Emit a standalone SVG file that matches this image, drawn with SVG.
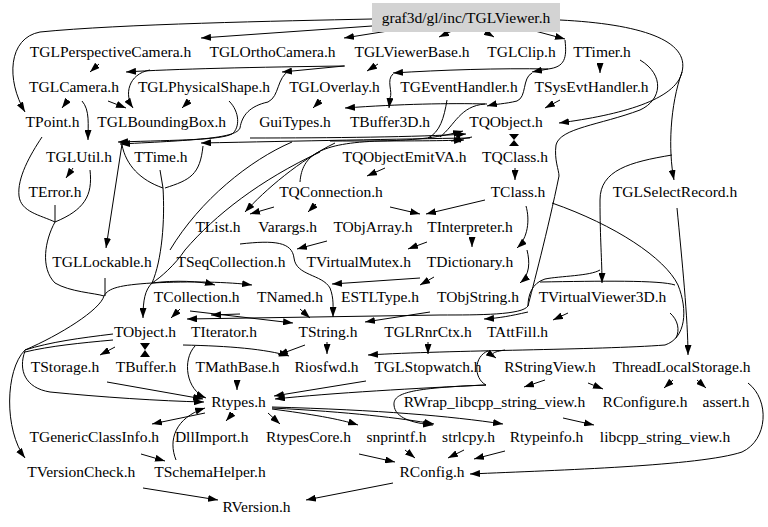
<svg xmlns="http://www.w3.org/2000/svg" width="768" height="527" viewBox="0 0 768 527">
<style>
text{font-family:"Liberation Serif","Times New Roman",serif;font-size:15.5px;text-anchor:middle;fill:#000}
.e{fill:none;stroke:#000;stroke-width:1;marker-end:url(#a)}
.l{fill:none;stroke:#000;stroke-width:1}
.h{fill:#000;stroke:none}
</style>
<defs>
<marker id="a" viewBox="0 0 10 7" refX="10" refY="3.5" markerWidth="10" markerHeight="7" markerUnits="userSpaceOnUse" orient="auto"><path d="M0,0L10,3.5L0,7z"/></marker>
</defs>
<rect width="768" height="527" fill="#fff"/>
<g id="edges">
<path class="e" d="M372,19 C280,21 120,24 40,32 C8,38 6,80 25,112"/>
<path class="e" d="M372,26 L201,38"/>
<path class="e" d="M388,31 L344,38"/>
<path class="e" d="M452,31 L439,37"/>
<path class="e" d="M484,31 L494,37"/>
<path class="e" d="M535,31 L565,39"/>
<path class="e" d="M560,20 C640,24 690,40 682,72 C676,100 620,115 559,123"/>
<path class="e" d="M682,72 C670,105 668,150 674,180"/>
<path class="e" d="M672,155 C630,162 600,170 600,200 C600,240 602,260 602,283"/>
<path class="e" d="M99,64 L90,72"/>
<path class="e" d="M345,66 C260,67 170,69 126,72"/>
<path class="e" d="M150,70 C128,74 124,95 133,108"/>
<path class="e" d="M378,64 L367,71"/>
<path class="e" d="M548,69 C500,68 440,70 393,73"/>
<path class="e" d="M393,74 C386,80 393,92 390,98 L389,108"/>
<path class="e" d="M565,40 C567,58 565,67 548,69 L532,72"/>
<path class="e" d="M532,73 C522,78 527,97 517,101 C505,104 495,104 487,106"/>
<path class="e" d="M487,104 C450,103 400,104 345,108"/>
<path class="l" d="M447,100 C444,118 440,132 428,138"/>
<path class="l" d="M440,137 C455,125 460,106 485,104"/>
<path class="e" d="M321,100 L313,108"/>
<path class="e" d="M560,100 L545,108"/>
<path class="e" d="M600,64 L600,73"/>
<path class="e" d="M68,100 L62,108"/>
<path class="e" d="M108,101 L126,108"/>
<path class="e" d="M190,100 L182,108"/>
<path class="e" d="M82,101 C90,110 88,125 88,140"/>
<path class="e" d="M229,101 C240,112 240,128 232,134 C220,140 180,140 118,142"/>
<path class="e" d="M344,66 L282,72"/>
<path class="e" d="M290,70 C276,78 280,96 268,102 C250,106 242,115 240,128 C236,138 200,140 120,144"/>
<path class="e" d="M470,138 C400,139 300,141 201,143"/>
<path class="e" d="M250,138 C330,138 420,137 466,134"/>
<path class="e" d="M330,141 C400,141 440,141 464,140"/>
<path class="e" d="M472,137 L451,141"/>
<path class="h" d="M509,134 L519,134 L514,140 Z M509,146 L519,146 L514,140 Z"/>
<path class="e" d="M515,168 L515,180"/>
<path class="e" d="M73,168 L66,178"/>
<path class="e" d="M122,144 L106,248"/>
<path class="e" d="M300,182 C302,155 320,143 380,141 C420,140 440,137 463,131"/>
<path class="e" d="M385,168 L367,176"/>
<path class="e" d="M335,143 C300,160 265,190 245,212"/>
<path class="e" d="M274,207 L250,214"/>
<path class="e" d="M316,204 L308,212"/>
<path class="e" d="M390,207 L420,214"/>
<path class="e" d="M485,200 L426,214"/>
<path class="e" d="M327,241 L297,249"/>
<path class="e" d="M427,242 L408,249"/>
<path class="e" d="M472,237 L472,247"/>
<path class="e" d="M526,206 C530,220 528,238 517,248"/>
<path class="e" d="M527,250 C530,262 530,275 520,283"/>
<path class="e" d="M434,277 L420,285"/>
<path class="e" d="M240,244 C275,240 292,242 294,258 C296,276 322,274 330,288 C334,298 333,308 333,317"/>
<path class="e" d="M420,278 L332,284"/>
<path class="e" d="M430,312 L365,322"/>
<path class="e" d="M300,309 L310,318"/>
<path class="e" d="M190,311 L293,323"/>
<path class="e" d="M180,309 L171,318"/>
<path class="l" d="M122,145 C126,165 140,180 163,188 C165,220 162,260 152,283"/>
<path class="l" d="M160,170 L163,188"/>
<path class="l" d="M203,146 C200,175 190,180 165,188"/>
<path class="l" d="M292,142 C250,160 200,200 170,250"/>
<path class="l" d="M320,152 C260,180 215,215 185,250 C175,265 160,278 152,283"/>
<path class="e" d="M152,283 C145,290 143,300 143,318"/>
<path class="e" d="M152,283 C175,280 200,281 215,285"/>
<path class="e" d="M152,283 C190,281 230,282 252,285"/>
<path class="l" d="M42,137 C30,155 17,178 19,196 C21,212 40,215 55,222"/>
<path class="l" d="M90,170 C93,196 84,210 55,222"/>
<path class="l" d="M55,205 L55,222"/>
<path class="l" d="M55,222 C45,240 40,268 55,283 C70,292 95,293 104,296"/>
<path class="l" d="M105,278 L105,296"/>
<path class="l" d="M152,283 C120,285 108,288 104,296 C100,310 60,335 25,350"/>
<path class="l" d="M113,334 C80,338 50,342 25,350"/>
<path class="l" d="M113,340 C80,343 50,346 25,352"/>
<path class="e" d="M25,350 C5,370 4,430 25,458"/>
<path class="e" d="M25,351 C18,370 25,388 50,392 C100,397 160,401 204,402"/>
<path class="e" d="M115,347 L100,355"/>
<path class="h" d="M140,343 L150,343 L145,350 Z M140,357 L150,357 L145,350 Z"/>
<path class="e" d="M559,176 C548,230 532,290 528,306 C522,315 480,315 440,315 L187,319"/>
<path class="e" d="M240,314 L211,315"/>
<path class="e" d="M528,312 C510,316 500,318 484,319"/>
<path class="l" d="M640,60 C665,75 662,100 640,110 C600,125 560,128 556,145 C554,160 559,170 559,176"/>
<path class="e" d="M552,203 C615,225 665,258 678,285 C688,310 686,338 665,345 C600,350 450,350 368,355"/>
<path class="e" d="M505,350 C492,352 490,354 496,358"/>
<path class="l" d="M488,351 C474,356 473,378 486,385"/>
<path class="l" d="M600,270 C590,276 560,276 545,279 C532,283 528,295 528,306"/>
<path class="l" d="M540,282 C600,281 660,280 675,285"/>
<path class="l" d="M670,313 C678,320 680,330 676,338"/>
<path class="e" d="M568,313 L553,320"/>
<path class="e" d="M428,342 L428,354"/>
<path class="e" d="M327,342 L327,354"/>
<path class="e" d="M305,345 L278,355"/>
<path class="e" d="M183,345 C230,346 265,349 289,356"/>
<path class="e" d="M486,385 C420,388 330,393 275,399"/>
<path class="e" d="M366,381 L274,396"/>
<path class="e" d="M486,385 C410,388 393,393 394,405 C395,418 412,423 433,425"/>
<path class="e" d="M195,346 C182,360 186,390 206,398"/>
<path class="e" d="M237,380 L237,390"/>
<path class="e" d="M107,382 L203,399"/>
<path class="e" d="M545,380 L524,387"/>
<path class="e" d="M588,383 L603,389"/>
<path class="e" d="M673,380 L664,388"/>
<path class="e" d="M697,380 L706,388"/>
<path class="e" d="M748,383 C770,400 768,440 742,452 C700,466 560,470 470,474"/>
<path class="e" d="M677,208 C682,260 688,320 688,355"/>
<path class="e" d="M205,413 L152,424"/>
<path class="e" d="M233,413 L226,421"/>
<path class="e" d="M268,413 L280,424"/>
<path class="e" d="M272,409 C310,414 340,419 358,425"/>
<path class="e" d="M272,408 C350,412 400,418 434,424"/>
<path class="e" d="M272,407 C380,410 450,416 503,424"/>
<path class="e" d="M176,460 C168,440 175,418 205,408"/>
<path class="e" d="M141,454 L165,461"/>
<path class="e" d="M563,418 L594,425"/>
<path class="e" d="M359,454 L395,462"/>
<path class="e" d="M405,450 L415,458"/>
<path class="e" d="M464,450 L448,458"/>
<path class="e" d="M505,451 L474,459"/>
<path class="e" d="M393,483 L306,500"/>
<path class="e" d="M143,488 L218,500"/>
</g>
<g id="n_TGLViewer"><rect x="372.5" y="3.5" width="187" height="28" fill="#d3d3d3" stroke="#d3d3d3"/><text x="466" y="23">graf3d/gl/inc/TGLViewer.h</text></g>
<g id="n_TGLPerspectiveCamera"><text x="110.5" y="57">TGLPerspectiveCamera.h</text></g>
<g id="n_TGLOrthoCamera"><text x="272.5" y="57">TGLOrthoCamera.h</text></g>
<g id="n_TGLViewerBase"><text x="412" y="57">TGLViewerBase.h</text></g>
<g id="n_TGLClip"><text x="521.5" y="57">TGLClip.h</text></g>
<g id="n_TTimer"><text x="602" y="57">TTimer.h</text></g>
<g id="n_TGLCamera"><text x="74" y="92">TGLCamera.h</text></g>
<g id="n_TGLPhysicalShape"><text x="204" y="92">TGLPhysicalShape.h</text></g>
<g id="n_TGLOverlay"><text x="334.5" y="92">TGLOverlay.h</text></g>
<g id="n_TGEventHandler"><text x="459" y="92">TGEventHandler.h</text></g>
<g id="n_TSysEvtHandler"><text x="591.5" y="92">TSysEvtHandler.h</text></g>
<g id="n_TPoint"><text x="52.5" y="127">TPoint.h</text></g>
<g id="n_TGLBoundingBox"><text x="161.7" y="127">TGLBoundingBox.h</text></g>
<g id="n_GuiTypes"><text x="295" y="127">GuiTypes.h</text></g>
<g id="n_TBuffer3D"><text x="390" y="127">TBuffer3D.h</text></g>
<g id="n_TQObject"><text x="506" y="127">TQObject.h</text></g>
<g id="n_TGLUtil"><text x="79" y="162">TGLUtil.h</text></g>
<g id="n_TTime"><text x="161" y="162">TTime.h</text></g>
<g id="n_TQObjectEmitVA"><text x="404.5" y="162">TQObjectEmitVA.h</text></g>
<g id="n_TQClass"><text x="515" y="162">TQClass.h</text></g>
<g id="n_TError"><text x="55" y="197">TError.h</text></g>
<g id="n_TQConnection"><text x="331" y="197">TQConnection.h</text></g>
<g id="n_TClass"><text x="518" y="197">TClass.h</text></g>
<g id="n_TGLSelectRecord"><text x="675" y="197">TGLSelectRecord.h</text></g>
<g id="n_TList"><text x="218" y="232">TList.h</text></g>
<g id="n_Varargs"><text x="287.7" y="232">Varargs.h</text></g>
<g id="n_TObjArray"><text x="373" y="232">TObjArray.h</text></g>
<g id="n_TInterpreter"><text x="470" y="232">TInterpreter.h</text></g>
<g id="n_TGLLockable"><text x="102" y="267">TGLLockable.h</text></g>
<g id="n_TSeqCollection"><text x="231" y="267">TSeqCollection.h</text></g>
<g id="n_TVirtualMutex"><text x="358.7" y="267">TVirtualMutex.h</text></g>
<g id="n_TDictionary"><text x="470" y="267">TDictionary.h</text></g>
<g id="n_TCollection"><text x="196.7" y="302">TCollection.h</text></g>
<g id="n_TNamed"><text x="290" y="302">TNamed.h</text></g>
<g id="n_ESTLType"><text x="380" y="302">ESTLType.h</text></g>
<g id="n_TObjString"><text x="478" y="302">TObjString.h</text></g>
<g id="n_TVirtualViewer3D"><text x="602.5" y="302">TVirtualViewer3D.h</text></g>
<g id="n_TObject"><text x="145" y="337">TObject.h</text></g>
<g id="n_TIterator"><text x="224" y="337">TIterator.h</text></g>
<g id="n_TString"><text x="328" y="337">TString.h</text></g>
<g id="n_TGLRnrCtx"><text x="428" y="337">TGLRnrCtx.h</text></g>
<g id="n_TAttFill"><text x="517.5" y="337">TAttFill.h</text></g>
<g id="n_TStorage"><text x="65" y="372">TStorage.h</text></g>
<g id="n_TBuffer"><text x="146" y="372">TBuffer.h</text></g>
<g id="n_TMathBase"><text x="237.5" y="372">TMathBase.h</text></g>
<g id="n_Riosfwd"><text x="326.5" y="372">Riosfwd.h</text></g>
<g id="n_TGLStopwatch"><text x="428" y="372">TGLStopwatch.h</text></g>
<g id="n_RStringView"><text x="550" y="372">RStringView.h</text></g>
<g id="n_ThreadLocalStorage"><text x="681.5" y="372">ThreadLocalStorage.h</text></g>
<g id="n_Rtypes"><text x="238.5" y="407">Rtypes.h</text></g>
<g id="n_RWrap"><text x="494.5" y="407">RWrap_libcpp_string_view.h</text></g>
<g id="n_RConfigure"><text x="645" y="407">RConfigure.h</text></g>
<g id="n_assert"><text x="726" y="407">assert.h</text></g>
<g id="n_TGenericClassInfo"><text x="94.3" y="442">TGenericClassInfo.h</text></g>
<g id="n_DllImport"><text x="211.7" y="442">DllImport.h</text></g>
<g id="n_RtypesCore"><text x="308.5" y="442">RtypesCore.h</text></g>
<g id="n_snprintf"><text x="396.5" y="442">snprintf.h</text></g>
<g id="n_strlcpy"><text x="468.5" y="442">strlcpy.h</text></g>
<g id="n_Rtypeinfo"><text x="546.5" y="442">Rtypeinfo.h</text></g>
<g id="n_libcpp_string_view"><text x="665" y="442">libcpp_string_view.h</text></g>
<g id="n_TVersionCheck"><text x="81.3" y="477">TVersionCheck.h</text></g>
<g id="n_TSchemaHelper"><text x="210" y="477">TSchemaHelper.h</text></g>
<g id="n_RConfig"><text x="432" y="477">RConfig.h</text></g>
<g id="n_RVersion"><text x="256.5" y="512">RVersion.h</text></g>
</svg>
